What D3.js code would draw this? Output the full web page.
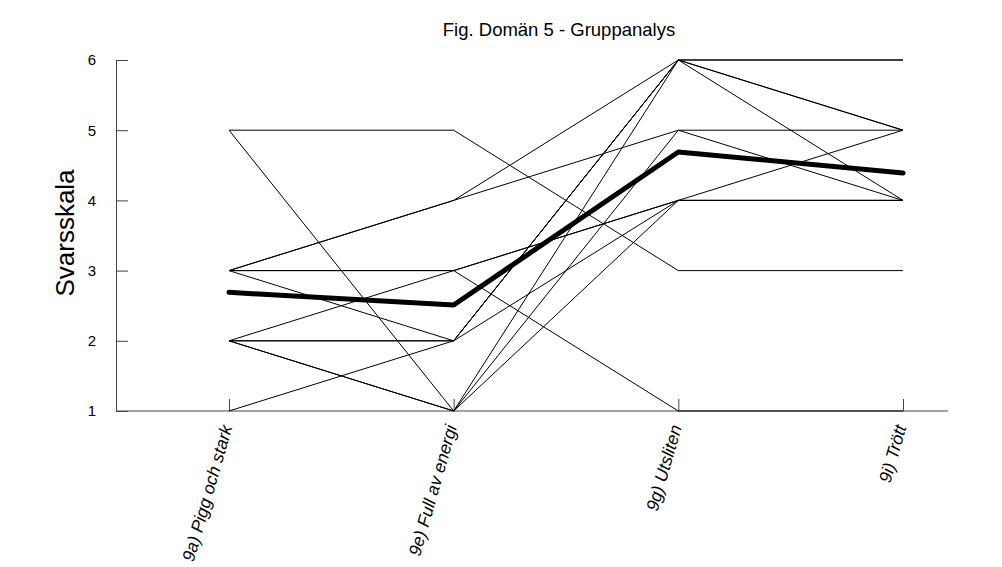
<!DOCTYPE html>
<html>
<head>
<meta charset="utf-8">
<script src="https://cdn.jsdelivr.net/npm/d3@7"></script>
<style>
  body { margin: 0; background: #fff; }
  svg { font-family: "Liberation Sans", Arial, sans-serif; }
</style>
</head>
<body>
<svg id="chart" width="1002" height="567"></svg>
<script>
const categories = ['9a) Pigg och stark', '9e) Full av energi', '9g) Utsliten', '9i) Trött'];
const yTicks = [1, 2, 3, 4, 5, 6];

// one value per respondent for each item
const piggOchStark = [5, 5, 2, 2, 3, 3, 3, 3, 2, 3, 2, 2, 1];
const fullAvEnergi = [5, 1, 1, 1, 4, 4, 3, 3, 3, 2, 2, 2, 2];
const utsliten     = [3, 6, 5, 4, 6, 5, 4, 4, 1, 6, 6, 6, 4];
const trott        = [3, 6, 5, 4, 5, 4, 4, 5, 1, 6, 5, 4, 4];

// group mean per item (thick line)
const meanValues = [2.69, 2.51, 4.69, 4.39];

const items = [piggOchStark, fullAvEnergi, utsliten, trott];
const respondents = piggOchStark.map((_, i) => items.map(col => col[i]));

const svg = d3.select('#chart');
const margin = {left: 116, right: 54, top: 60, bottom: 156};
const width = 1002 - margin.left - margin.right;
const height = 567 - margin.top - margin.bottom;

const g = svg.append('g')
  .attr('transform', `translate(${margin.left},${margin.top})`);

const x = d3.scalePoint()
  .domain(categories)
  .range([113, 787]);

const y = d3.scaleLinear()
  .domain([1, 6])
  .range([height, 0]);

const line = d3.line()
  .x((d, i) => x(categories[i]))
  .y(d => y(d));

// axes
const yAxis = g.append('g')
  .call(d3.axisLeft(y).tickValues(yTicks).tickFormat(d3.format('d'))
    .tickSizeInner(-12).tickSizeOuter(0).tickPadding(20));
yAxis.selectAll('text').attr('font-size', 15).attr('fill', '#000').attr('font-family', 'Liberation Sans, Arial, sans-serif');
yAxis.selectAll('line, path').attr('stroke', '#444');

const xAxis = g.append('g')
  .attr('transform', `translate(0,${height})`)
  .call(d3.axisBottom(x).tickSizeInner(-12).tickSizeOuter(0).tickFormat(''));
xAxis.select('.domain').remove();
xAxis.selectAll('line').attr('stroke', '#444');
xAxis.append('line')
  .attr('x1', 0).attr('x2', width)
  .attr('stroke', '#444');

xAxis.selectAll('.tick').append('text')
  .attr('transform', 'translate(3,16) rotate(-74)')
  .attr('text-anchor', 'end')
  .attr('font-size', 17.5)
  .attr('font-style', 'italic')
  .attr('fill', '#000')
  .attr('font-family', 'Liberation Sans, Arial, sans-serif')
  .text(d => d);

// respondent lines
g.append('g')
  .selectAll('path')
  .data(respondents)
  .enter().append('path')
  .attr('d', line)
  .attr('fill', 'none')
  .attr('stroke', '#000')
  .attr('stroke-width', 1);

// mean line
g.append('path')
  .datum(meanValues)
  .attr('d', line)
  .attr('fill', 'none')
  .attr('stroke', '#000')
  .attr('stroke-width', 5)
  .attr('stroke-linecap', 'round')
  .attr('stroke-linejoin', 'round');

svg.append('text')
  .attr('x', 559)
  .attr('y', 36)
  .attr('text-anchor', 'middle')
  .attr('font-size', 18.5)
  .text('Fig. Domän 5 - Gruppanalys');

svg.append('text')
  .attr('transform', `translate(74,233) rotate(-90)`)
  .attr('text-anchor', 'middle')
  .attr('font-size', 26)
  .text('Svarsskala');
</script>
</body>
</html>
